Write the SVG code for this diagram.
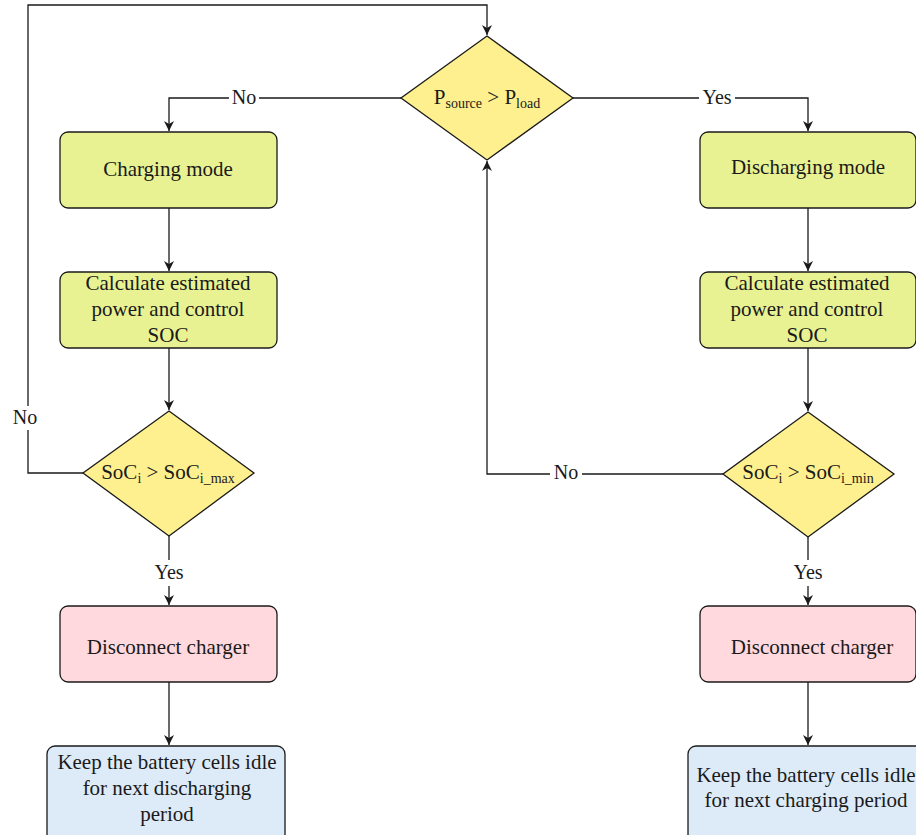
<svg xmlns="http://www.w3.org/2000/svg" width="916" height="835" viewBox="0 0 916 835">
<style>
.box{stroke:#1a1a1a;stroke-width:1.3}
.g{fill:#E9F293}
.y{fill:#FEF08E}
.p{fill:#FFD9DD}
.b{fill:#DDEBF9}
.t{font-family:"Liberation Serif","DejaVu Serif",serif;font-size:21px;fill:#1a1a1a;text-anchor:middle}
.sub{font-size:14px}
.c{fill:none;stroke:#1a1a1a;stroke-width:1.3}
.lbl{font-family:"Liberation Serif","DejaVu Serif",serif;font-size:20px;fill:#1a1a1a;text-anchor:middle}
</style>
<defs>
<marker id="ah" viewBox="0 0 10 10" refX="10" refY="5" markerWidth="10" markerHeight="10" markerUnits="userSpaceOnUse" orient="auto">
<path d="M0,0 L10,5 L0,10 L3,5 Z" fill="#1a1a1a"/>
</marker>
</defs>
<rect width="916" height="835" fill="#fff"/>
<g id="connectors">
<path class="c" d="M83,473 H28 V5 H487 V35" marker-end="url(#ah)"/>
<path class="c" d="M401,98 H169 V131" marker-end="url(#ah)"/>
<path class="c" d="M573,98 H808 V131" marker-end="url(#ah)"/>
<path class="c" d="M169,208 V271" marker-end="url(#ah)"/>
<path class="c" d="M808,208 V271" marker-end="url(#ah)"/>
<path class="c" d="M169,348 V410" marker-end="url(#ah)"/>
<path class="c" d="M808,348 V411" marker-end="url(#ah)"/>
<path class="c" d="M169,536 V605" marker-end="url(#ah)"/>
<path class="c" d="M808,537 V605" marker-end="url(#ah)"/>
<path class="c" d="M723,474 H487 V161" marker-end="url(#ah)"/>
<path class="c" d="M169,682 V745" marker-end="url(#ah)"/>
<path class="c" d="M808,682 V745" marker-end="url(#ah)"/>
<rect x="229" y="86" width="30" height="24" fill="#fff"/>
<text class="lbl" x="244" y="104">No</text>
<rect x="699" y="86" width="36" height="24" fill="#fff"/>
<text class="lbl" x="717" y="104">Yes</text>
<rect x="9" y="406" width="34" height="24" fill="#fff"/>
<text class="lbl" x="25" y="424">No</text>
<rect x="550" y="462" width="32" height="24" fill="#fff"/>
<text class="lbl" x="566" y="479">No</text>
<rect x="149" y="560" width="40" height="26" fill="#fff"/>
<text class="lbl" x="169" y="579">Yes</text>
<rect x="788" y="560" width="40" height="26" fill="#fff"/>
<text class="lbl" x="808" y="579">Yes</text>
</g>
<g id="decision-power">
<path class="box y" d="M487,36 L573,98 L487,160 L401,98 Z"/>
<text class="t" x="487" y="104">P<tspan class="sub" dy="4">source</tspan><tspan dy="-4"> &gt; P</tspan><tspan class="sub" dy="4">load</tspan></text>
</g>
<g id="charging-mode">
<rect class="box g" x="60" y="132" width="217" height="76" rx="8"/>
<text class="t" x="168" y="176">Charging mode</text>
</g>
<g id="calc-left">
<rect class="box g" x="60" y="272" width="217" height="76" rx="8"/>
<text class="t" x="168" y="290">Calculate estimated</text>
<text class="t" x="168" y="316">power and control</text>
<text class="t" x="168" y="342">SOC</text>
</g>
<g id="decision-max">
<path class="box y" d="M169,411 L254,473 L169,536 L83,473 Z"/>
<text class="t" x="168" y="479">SoC<tspan class="sub" dy="4">i</tspan><tspan dy="-4"> &gt; SoC</tspan><tspan class="sub" dy="4">i_max</tspan></text>
</g>
<g id="disconnect-left">
<rect class="box p" x="60" y="606" width="217" height="76" rx="8"/>
<text class="t" x="168" y="654">Disconnect charger</text>
</g>
<g id="idle-left">
<rect class="box b" x="47" y="746" width="238" height="100" rx="8"/>
<text class="t" x="167" y="769">Keep the battery cells idle</text>
<text class="t" x="167" y="795">for next discharging</text>
<text class="t" x="167" y="821">period</text>
</g>
<g id="discharging-mode">
<rect class="box g" x="700" y="132" width="216" height="76" rx="8"/>
<text class="t" x="808" y="174">Discharging mode</text>
</g>
<g id="calc-right">
<rect class="box g" x="700" y="272" width="216" height="76" rx="8"/>
<text class="t" x="807" y="290">Calculate estimated</text>
<text class="t" x="807" y="316">power and control</text>
<text class="t" x="807" y="342">SOC</text>
</g>
<g id="decision-min">
<path class="box y" d="M808,412 L894,474 L808,537 L723,474 Z"/>
<text class="t" x="808" y="479">SoC<tspan class="sub" dy="4">i</tspan><tspan dy="-4"> &gt; SoC</tspan><tspan class="sub" dy="4">i_min</tspan></text>
</g>
<g id="disconnect-right">
<rect class="box p" x="700" y="606" width="216" height="76" rx="8"/>
<text class="t" x="812" y="654">Disconnect charger</text>
</g>
<g id="idle-right">
<rect class="box b" x="688" y="746" width="240" height="100" rx="8"/>
<text class="t" x="806" y="782">Keep the battery cells idle</text>
<text class="t" x="806" y="807">for next charging period</text>
</g>
</svg>
